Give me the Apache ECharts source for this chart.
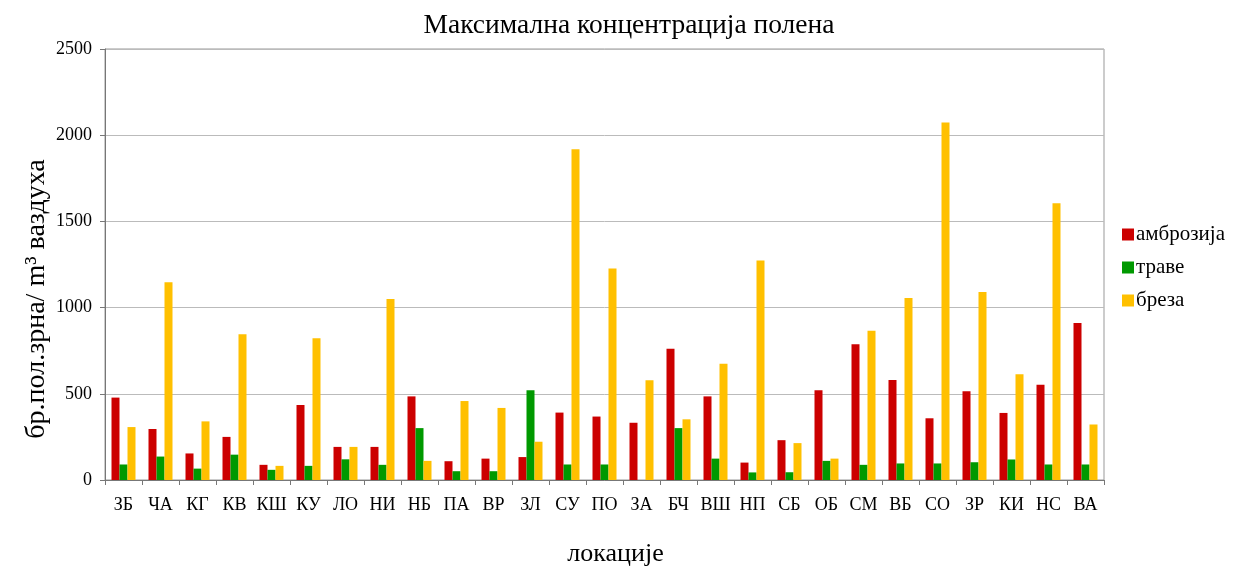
<!DOCTYPE html>
<html>
<head>
<meta charset="utf-8">
<script src="https://cdn.jsdelivr.net/npm/echarts@6/dist/echarts.min.js"></script>
<style>
  html, body { margin: 0; padding: 0; background: #fff; overflow: hidden; }
  #chart { width: 1250px; height: 572px; }
</style>
</head>
<body>
<div id="chart"></div>
<script>
// Locations (category axis)
const locations = ['ЗБ','ЧА','КГ','КВ','КШ','КУ','ЛО','НИ','НБ','ПА','ВР','ЗЛ','СУ','ПО','ЗА','БЧ','ВШ','НП','СБ','ОБ','СМ','ВБ','СО','ЗР','КИ','НС','ВА'];

// Maximum pollen concentration per location (grains / m3 of air)
const ambrozija = [478, 296, 154, 250, 88, 435, 192, 192, 485, 109, 124, 133, 391, 368, 332, 762, 485, 101, 231, 521, 788, 580, 358, 515, 389, 553, 911];
const trave     = [90, 136, 66, 147, 59, 82, 120, 88, 301, 51, 51, 521, 90, 90, 0, 301, 124, 44, 45, 111, 88, 96, 96, 103, 119, 90, 90];
const breza     = [307, 1147, 340, 845, 82, 822, 192, 1050, 111, 458, 418, 222, 1918, 1227, 578, 352, 674, 1273, 214, 124, 866, 1055, 2073, 1090, 613, 1605, 322];

const seriesNames = ['амброзија', 'траве', 'бреза'];
const colors = ['#CC0000', '#009900', '#FFC000'];

const font = '"Liberation Serif", "DejaVu Serif", serif';
const chart = echarts.init(document.getElementById('chart'), null, { renderer: 'canvas', width: 1250, height: 572 });

const mkSeries = (name, data, color) => ({
  name: name,
  type: 'bar',
  data: data,
  barWidth: 8,
  barGap: '0%',
  itemStyle: { color: color },
  emphasis: { disabled: true }
});

chart.setOption({
  animation: false,
  textStyle: { fontFamily: font },
  title: {
    text: 'Максимална концентрација полена',
    left: 624,
    textAlign: 'center',
    top: 7,
    textStyle: { fontFamily: font, fontSize: 27.5, fontWeight: 'normal', color: '#000' }
  },
  legend: {
    orient: 'vertical',
    left: 1117,
    top: 219,
    itemWidth: 12,
    itemHeight: 12,
    itemGap: 12,
    icon: 'rect',
    data: seriesNames,
    textStyle: { fontFamily: font, fontSize: 21, color: '#000', padding: [0, 0, 0, -3] }
  },
  grid: { left: 105, width: 999, top: 49, height: 449, show: true, borderColor: '#999', borderWidth: 1 },
  xAxis: {
    type: 'category',
    data: locations,
    name: 'локације',
    nameLocation: 'middle',
    nameGap: 61,
    nameTextStyle: { fontFamily: font, fontSize: 26, color: '#000', padding: [0, 0, 0, 22] },
    axisLine: { lineStyle: { color: '#777', width: 1 } },
    axisTick: { show: true, alignWithLabel: false, length: 5, lineStyle: { color: '#777' } },
    axisLabel: { fontFamily: font, fontSize: 18, color: '#000', margin: 16, interval: 0 }
  },
  yAxis: {
    type: 'value',
    min: 0,
    max: 2500,
    interval: 500,
    axisLine: { show: true, lineStyle: { color: '#777', width: 1 } },
    axisTick: { show: true, length: 5, lineStyle: { color: '#777' } },
    axisLabel: { fontFamily: font, fontSize: 18, color: '#000', margin: 13, formatter: v => String(v) },
    splitLine: { lineStyle: { color: '#bbb', width: 1 } }
  },
  graphic: [{
    type: 'text',
    x: 37,
    y: 299,
    rotation: Math.PI / 2,
    style: {
      text: 'бр.пол.зрна/ m³ ваздуха',
      font: '28px ' + font,
      fill: '#000',
      textAlign: 'center',
      textVerticalAlign: 'middle'
    }
  }],
  series: [
    mkSeries(seriesNames[0], ambrozija, colors[0]),
    mkSeries(seriesNames[1], trave, colors[1]),
    mkSeries(seriesNames[2], breza, colors[2])
  ]
});
</script>
</body>
</html>
